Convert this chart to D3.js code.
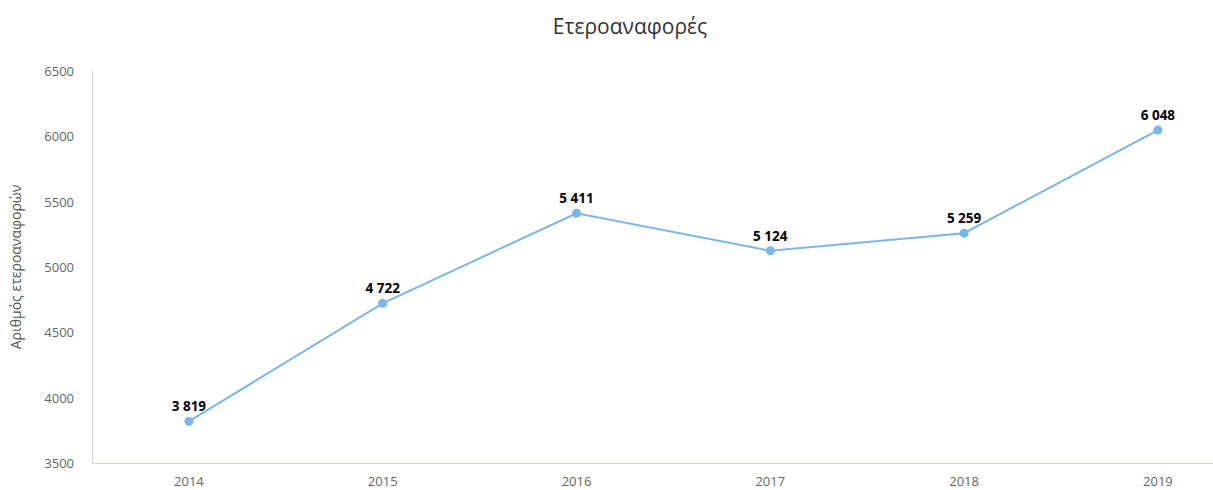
<!DOCTYPE html>
<html lang="el">
<head>
<meta charset="utf-8">
<title>Ετεροαναφορές</title>
<script src="https://d3js.org/d3.v7.min.js"></script>
<style>
    body { margin: 0; background: #fff; }
    text { font-family: "Open Sans", "Noto Sans", sans-serif; }
</style>
</head>
<body>
<script>
'use strict';

// data
var years = ["2014", "2015", "2016", "2017", "2018", "2019"];
var values = [3819, 4722, 5411, 5124, 5259, 6048];
var yTicks = [3500, 4000, 4500, 5000, 5500, 6000, 6500];

var w = 1213, h = 490;
var plotLeft = 92, plotTop = 71, plotBottom = 463;
var step = 193.8;

var svg = d3.select("body").append("svg")
    .attr("width", w).attr("height", h);

var xScale = d3.scalePoint()
    .domain(years)
    .range([plotLeft + step / 2, plotLeft + step * 5.5]);

var yScale = d3.scaleLinear()
    .domain([3500, 6500])
    .range([plotBottom, plotTop]);

// title
svg.append("text")
    .attr("x", 630).attr("y", 34)
    .attr("text-anchor", "middle")
    .attr("font-size", "21px")
    .attr("fill", "#333")
    .text("Ετεροαναφορές");

// y axis title
svg.append("text")
    .attr("transform", "translate(21," + ((plotTop + plotBottom) / 2) + ") rotate(-90)")
    .attr("text-anchor", "middle")
    .attr("font-size", "14px")
    .attr("fill", "#555")
    .text("Αριθμός ετεροαναφορών");

// axes lines
svg.append("line")
    .attr("x1", plotLeft + 0.5).attr("x2", plotLeft + 0.5)
    .attr("y1", plotTop).attr("y2", plotBottom)
    .attr("stroke", "#ccd6eb");
svg.append("line")
    .attr("x1", plotLeft).attr("x2", w)
    .attr("y1", plotBottom + 0.5).attr("y2", plotBottom + 0.5)
    .attr("stroke", "#ccd6eb");

// y tick labels
svg.selectAll("text.ytick")
    .data(yTicks)
    .enter().append("text")
    .attr("class", "ytick")
    .attr("x", 74)
    .attr("y", function(d) { return yScale(d) + 5; })
    .attr("text-anchor", "end")
    .attr("font-size", "13px")
    .attr("fill", "#666")
    .text(function(d) { return d; });

// x tick labels
svg.selectAll("text.xtick")
    .data(years)
    .enter().append("text")
    .attr("class", "xtick")
    .attr("x", function(d) { return xScale(d); })
    .attr("y", 486)
    .attr("text-anchor", "middle")
    .attr("font-size", "13px")
    .attr("fill", "#666")
    .text(function(d) { return d; });

var line = d3.line()
    .x(function(d, i) { return xScale(years[i]); })
    .y(function(d) { return yScale(d); });

svg.append("path")
    .datum(values)
    .attr("d", line)
    .attr("fill", "none")
    .attr("stroke", "#7cb5ec")
    .attr("stroke-width", 2);

svg.selectAll("circle")
    .data(values)
    .enter().append("circle")
    .attr("cx", function(d, i) { return xScale(years[i]); })
    .attr("cy", function(d) { return yScale(d); })
    .attr("r", 4.5)
    .attr("fill", "#7cb5ec");

var fmt = function(d) { return d3.format(",")(d).replace(",", " "); };

svg.selectAll("text.lbl")
    .data(values)
    .enter().append("text")
    .attr("class", "lbl")
    .attr("x", function(d, i) { return xScale(years[i]); })
    .attr("y", function(d) { return yScale(d) - 10; })
    .attr("text-anchor", "middle")
    .attr("font-size", "13.5px")
    .attr("font-weight", "bold")
    .attr("fill", "#000")
    .attr("stroke", "#fff")
    .attr("stroke-width", 2)
    .attr("paint-order", "stroke")
    .text(fmt);
</script>
</body>
</html>
